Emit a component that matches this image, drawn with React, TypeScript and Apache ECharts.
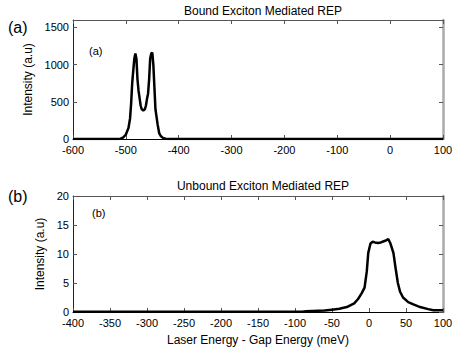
import React, { useEffect, useRef } from "react";
import * as echarts from "echarts";

const boundX = [-600, -515, -510, -505, -500, -495, -492, -490, -488, -486, -484, -482, -480, -478, -476, -474, -472, -470, -467, -464, -462, -460, -458, -456, -454, -452, -450, -448, -446, -444, -442, -440, -437, -434, -430, -425, -420, 100];
const boundY = [0, 0, 5, 20, 60, 150, 280, 480, 750, 920, 1080, 1150, 1080, 800, 650, 550, 450, 400, 385, 400, 450, 540, 610, 800, 1080, 1150, 1160, 1000, 700, 400, 300, 200, 80, 40, 15, 3, 0, 0];

const unboundX = [-400, -90, -85, -60, -50, -40, -30, -20, -15, -10, -6, -3, -1, 2, 5, 8, 12, 16, 20, 24, 26, 29, 33, 36, 39, 42, 46, 53, 60, 69, 80, 87, 100];
const unboundY = [0.05, 0.05, 0.15, 0.25, 0.4, 0.55, 0.85, 1.5, 2.2, 3.2, 4.2, 7.0, 10.2, 11.8, 12.1, 12.0, 11.9, 12.0, 12.2, 12.4, 12.6, 11.8, 10.2, 7.5, 5.0, 3.5, 2.5, 1.7, 1.3, 0.85, 0.5, 0.3, 0.3];

const boundXTicks = { min: -600, max: 100, interval: 100 };
const unboundXTicks = { min: -400, max: 100, interval: 50 };
const boundYTicks = { min: 0, max: 1600, interval: 500 };
const unboundYTicks = { min: 0, max: 20, interval: 5 };

const titles = ["Bound Exciton Mediated REP", "Unbound Exciton Mediated REP"];
const panelLabels = ["(a)", "(b)"];
const yName = "Intensity (a.u)";
const xName = "Laser Energy - Gap Energy (meV)";

const FONT = "'Liberation Sans', Arial, sans-serif";

export default function App() {
  const ref = useRef<HTMLDivElement>(null);
  useEffect(() => {
    if (!ref.current) return;
    const chart = echarts.init(ref.current, undefined, { renderer: "svg" });
    const tick = { show: true, inside: true, length: 4, lineStyle: { color: "#555", width: 1 } };
    const label = { color: "#000", fontFamily: FONT, fontSize: 11, margin: 5, formatter: (v: number) => String(v) };
    const mkBottomX = (g: number, t: any, name?: string) => ({
      type: "value", gridIndex: g, position: "bottom", min: t.min, max: t.max, interval: t.interval,
      axisLine: { show: true, onZero: false, lineStyle: { color: "#000", width: 1 } },
      axisTick: tick, axisLabel: label, splitLine: { show: false },
      name: name || "", nameLocation: "middle", nameGap: 22,
      nameTextStyle: { color: "#000", fontFamily: FONT, fontSize: 12 },
    });
    const mkTopX = (g: number, t: any) => ({
      type: "value", gridIndex: g, position: "top", min: t.min, max: t.max, interval: t.interval,
      axisLine: { show: true, onZero: false, lineStyle: { color: "#555", width: 1 } },
      axisTick: tick, axisLabel: { show: false }, splitLine: { show: false },
    });
    const mkLeftY = (g: number, t: any, gap: number) => ({
      type: "value", gridIndex: g, position: "left", min: t.min, max: t.max, interval: t.interval,
      axisLine: { show: true, onZero: false, lineStyle: { color: "#222", width: 1 } },
      axisTick: tick, axisLabel: { ...label, margin: 4, showMaxLabel: t.max % t.interval === 0 }, splitLine: { show: false },
      name: yName, nameLocation: "middle", nameGap: gap, nameRotate: 90,
      nameTextStyle: { color: "#000", fontFamily: FONT, fontSize: 12 },
    });
    const mkRightY = (g: number, t: any) => ({
      type: "value", gridIndex: g, position: "right", min: t.min, max: t.max, interval: t.interval,
      axisLine: { show: true, onZero: false, lineStyle: { color: "#aaa", width: 2.5 } },
      axisTick: tick, axisLabel: { show: false }, splitLine: { show: false },
    });
    chart.setOption({
      animation: false,
      backgroundColor: "#fff",
      title: [
        { text: titles[0], left: 258, top: 0, textAlign: "center", textStyle: { fontFamily: FONT, fontSize: 12, fontWeight: "normal", color: "#000" } },
        { text: titles[1], left: 258, top: 175, textAlign: "center", textStyle: { fontFamily: FONT, fontSize: 12, fontWeight: "normal", color: "#000" } },
      ],
      grid: [
        { left: 73, top: 20, width: 370, height: 119 },
        { left: 73, top: 196, width: 370, height: 117 },
      ],
      xAxis: [mkBottomX(0, boundXTicks), mkTopX(0, boundXTicks), mkBottomX(1, unboundXTicks, xName), mkTopX(1, unboundXTicks)],
      yAxis: [mkLeftY(0, boundYTicks, 35), mkRightY(0, boundYTicks), mkLeftY(1, unboundYTicks, 22), mkRightY(1, unboundYTicks)],
      graphic: [
        { type: "text", left: 8, top: 19, style: { text: panelLabels[0], font: `16px ${FONT}`, fill: "#000" } },
        { type: "text", left: 8, top: 188, style: { text: panelLabels[1], font: `16px ${FONT}`, fill: "#000" } },
        { type: "text", left: 89, top: 45, style: { text: panelLabels[0], font: `11px ${FONT}`, fill: "#000" } },
        { type: "text", left: 92, top: 207, style: { text: panelLabels[1], font: `11px ${FONT}`, fill: "#000" } },
      ],
      series: [
        { type: "line", xAxisIndex: 0, yAxisIndex: 0, showSymbol: false, smooth: false, lineStyle: { color: "#000", width: 2.5 }, data: boundX.map((x, i) => [x, boundY[i]]) },
        { type: "line", xAxisIndex: 2, yAxisIndex: 2, showSymbol: false, smooth: false, lineStyle: { color: "#000", width: 2.5 }, data: unboundX.map((x, i) => [x, unboundY[i]]) },
      ],
    });
    return () => chart.dispose();
  }, []);
  return <div ref={ref} style={{ position: "fixed", left: 0, top: 0, width: 462, height: 347 }} />;
}
